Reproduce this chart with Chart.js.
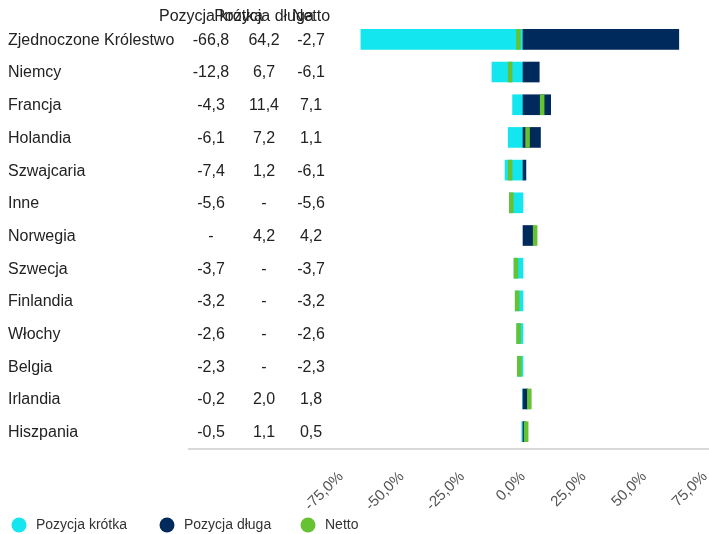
<!DOCTYPE html>
<html>
<head>
<meta charset="utf-8">
<script src="https://cdn.jsdelivr.net/npm/chart.js@4/dist/chart.umd.min.js"></script>
<style>
  html, body { margin: 0; padding: 0; background: #fff; }
  #wrap { width: 709px; height: 534px; }
</style>
</head>
<body>
<div id="wrap"><canvas id="chart"></canvas></div>
<script>
var countries = ["Zjednoczone Królestwo", "Niemcy", "Francja", "Holandia", "Szwajcaria", "Inne",
  "Norwegia", "Szwecja", "Finlandia", "Włochy", "Belgia", "Irlandia", "Hiszpania"];
var shortPos = [-66.8, -12.8, -4.3, -6.1, -7.4, -5.6, null, -3.7, -3.2, -2.6, -2.3, -0.2, -0.5];
var longPos = [64.2, 6.7, 11.4, 7.2, 1.2, null, 4.2, null, null, null, null, 2.0, 1.1];
var netPos = [-2.7, -6.1, 7.1, 1.1, -6.1, -5.6, 4.2, -3.7, -3.2, -2.6, -2.3, 1.8, 0.5];
var columnTitles = ["Pozycja krótka", "Pozycja długa", "Netto"];

var FONT = "'Liberation Sans', Arial, sans-serif";

function fmt(v) {
  if (v === null) return "-";
  return v.toFixed(1).replace(".", ",");
}

// net shown as thin marker starting at the net value
var netMarks = netPos.map(function(v) { return [v, v + 1.6]; });

var tablePlugin = {
  id: "table",
  afterDraw: function(chart) {
    var ctx = chart.ctx;
    var y = chart.scales.y;
    var area = chart.chartArea;
    var cols = [211, 264, 311];
    ctx.save();
    ctx.font = "16px " + FONT;
    ctx.fillStyle = "#222";
    ctx.textBaseline = "middle";
    ctx.textAlign = "center";
    columnTitles.forEach(function(t, i) { ctx.fillText(t, cols[i], 17); });
    countries.forEach(function(c, i) {
      var py = y.getPixelForValue(i) + 1;
      ctx.textAlign = "left";
      ctx.fillText(c, 8, py);
      ctx.textAlign = "center";
      ctx.fillText(fmt(shortPos[i]), cols[0], py);
      ctx.fillText(fmt(longPos[i]), cols[1], py);
      ctx.fillText(fmt(netPos[i]), cols[2], py);
    });
    // baseline
    ctx.strokeStyle = "#d9d9d9";
    ctx.lineWidth = 2;
    ctx.beginPath();
    ctx.moveTo(188, area.bottom + 1);
    ctx.lineTo(chart.width, area.bottom + 1);
    ctx.stroke();
    // legend
    var lx = [19, 167, 308];
    ctx.font = "14px " + FONT;
    ctx.textAlign = "left";
    chart.data.datasets.forEach(function(ds, i) {
      ctx.fillStyle = ds.backgroundColor;
      ctx.beginPath();
      ctx.arc(lx[i], 525, 7.5, 0, Math.PI * 2);
      ctx.fill();
      ctx.fillStyle = "#333";
      ctx.fillText(ds.label, lx[i] + 17, 525);
    });
    ctx.restore();
  }
};

new Chart(document.getElementById("chart"), {
  type: "bar",
  data: {
    labels: countries,
    datasets: [
      { label: "Pozycja krótka", data: shortPos, backgroundColor: "#14E6F0", order: 2 },
      { label: "Pozycja długa", data: longPos, backgroundColor: "#002A5C", order: 1 },
      { label: "Netto", data: netMarks, backgroundColor: "#66C232", order: 0 }
    ]
  },
  options: {
    indexAxis: "y",
    responsive: true,
    maintainAspectRatio: false,
    animation: false,
    layout: { padding: { top: 23, right: 4, left: 0, bottom: 0 } },
    datasets: { bar: { grouped: false, barThickness: 20 } },
    plugins: { legend: { display: false }, tooltip: { enabled: false } },
    scales: {
      y: {
        ticks: { display: false },
        grid: { display: false },
        border: { display: false },
        afterFit: function(s) { s.width = 341; }
      },
      x: {
        min: -75,
        max: 75,
        grid: { display: false },
        border: { display: false },
        afterFit: function(s) { s.height = 86; s.paddingLeft = 0; s.paddingRight = 0; },
        ticks: {
          stepSize: 25,
          minRotation: 45,
          maxRotation: 45,
          padding: 12,
          color: "#555",
          font: { family: FONT, size: 15 },
          callback: function(v) { return v.toFixed(1).replace(".", ",") + "%"; }
        }
      }
    }
  },
  plugins: [tablePlugin]
});
</script>
</body>
</html>
